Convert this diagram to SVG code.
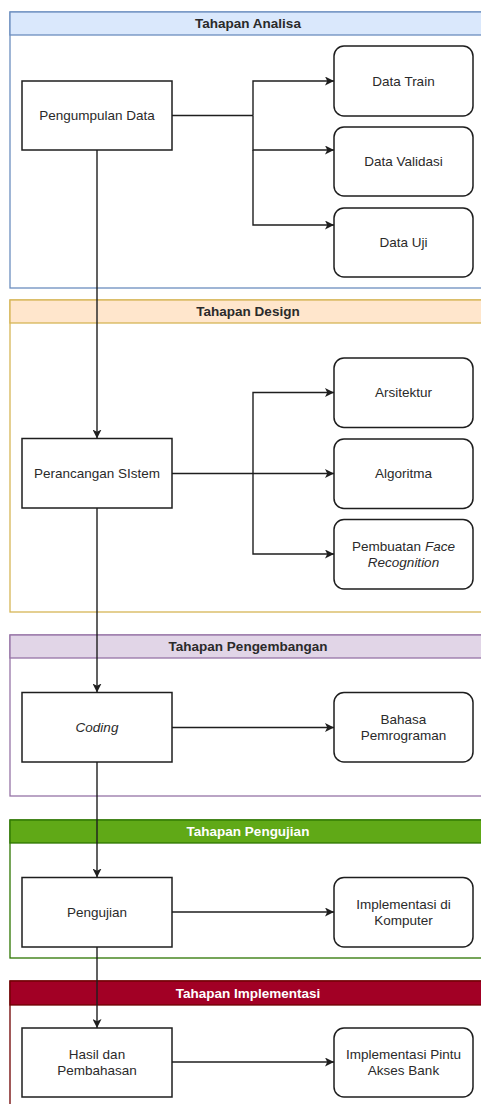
<svg xmlns="http://www.w3.org/2000/svg" width="481" height="1104" viewBox="0 0 481 1104">
<style>
text{font-family:"Liberation Sans",Arial,sans-serif;font-size:13.5px;fill:#2a2a2a;text-anchor:middle}
.hd{font-weight:bold}
.hw{font-weight:bold;fill:#fff}
.it{font-style:italic}
.box{fill:#fff;stroke:#1e1e1e;stroke-width:1.5}
.edge{fill:none;stroke:#1e1e1e;stroke-width:1.4}
</style>
<defs>
<marker id="ah" viewBox="0 0 10 10" refX="10" refY="5" markerWidth="9" markerHeight="9" markerUnits="userSpaceOnUse" orient="auto">
<path d="M0,0 L10,5 L0,10 L2.5,5 Z" fill="#1e1e1e"/>
</marker>
</defs>
<rect width="481" height="1104" fill="#fff"/>
<g id="lane-analisa">
<rect x="10" y="12" width="476" height="276" fill="#fff" stroke="#6c8ebf" stroke-width="1.3"/>
<rect x="10" y="12" width="476" height="23" fill="#dae8fc" stroke="#6c8ebf" stroke-width="1.3"/>
<text class="hd" x="248" y="28.2">Tahapan Analisa</text>
</g>
<g id="lane-design">
<rect x="10" y="300" width="476" height="312" fill="#fff" stroke="#d6b656" stroke-width="1.3"/>
<rect x="10" y="300" width="476" height="23" fill="#ffe6cc" stroke="#d6b656" stroke-width="1.3"/>
<text class="hd" x="248" y="316.2">Tahapan Design</text>
</g>
<g id="lane-pengembangan">
<rect x="10" y="635" width="476" height="161" fill="#fff" stroke="#9673a6" stroke-width="1.3"/>
<rect x="10" y="635" width="476" height="23" fill="#e1d5e7" stroke="#9673a6" stroke-width="1.3"/>
<text class="hd" x="248" y="651.2">Tahapan Pengembangan</text>
</g>
<g id="lane-pengujian">
<rect x="10" y="820" width="476" height="138" fill="#fff" stroke="#2d7600" stroke-width="1.3"/>
<rect x="10" y="820" width="476" height="23" fill="#60a917" stroke="#2d7600" stroke-width="1.3"/>
<text class="hw" x="248" y="836.2">Tahapan Pengujian</text>
</g>
<g id="lane-implementasi">
<rect x="10" y="981" width="476" height="140" fill="#fff" stroke="#6f0000" stroke-width="1.3"/>
<rect x="10" y="981" width="476" height="24" fill="#a20025" stroke="#6f0000" stroke-width="1.3"/>
<text class="hw" x="248" y="997.7">Tahapan Implementasi</text>
</g>
<g id="connectors">
<path class="edge" d="M172 115.5 H253"/>
<path class="edge" d="M253 115.5 V81 H334" marker-end="url(#ah)"/>
<path class="edge" d="M253 115.5 V150 H334" marker-end="url(#ah)"/>
<path class="edge" d="M253 150 V225 H334" marker-end="url(#ah)"/>
<path class="edge" d="M97 150 V438.5" marker-end="url(#ah)"/>
<path class="edge" d="M172 473.5 H334" marker-end="url(#ah)"/>
<path class="edge" d="M253 473.5 V392.5 H334" marker-end="url(#ah)"/>
<path class="edge" d="M253 473.5 V554 H334" marker-end="url(#ah)"/>
<path class="edge" d="M97 508 V692.5" marker-end="url(#ah)"/>
<path class="edge" d="M172 727.5 H334" marker-end="url(#ah)"/>
<path class="edge" d="M97 762 V877.5" marker-end="url(#ah)"/>
<path class="edge" d="M172 912 H334" marker-end="url(#ah)"/>
<path class="edge" d="M97 947 V1028" marker-end="url(#ah)"/>
<path class="edge" d="M172 1062 H334" marker-end="url(#ah)"/>
</g>
<g id="pengumpulan-data">
<rect class="box" x="22" y="81" width="150" height="69"/>
<text x="97" y="120.2">Pengumpulan Data</text>
</g>
<g id="data-train">
<rect class="box" x="334" y="46" width="139" height="70" rx="10"/>
<text x="403.5" y="85.7">Data Train</text>
</g>
<g id="data-validasi">
<rect class="box" x="334" y="127" width="139" height="69" rx="10"/>
<text x="403.5" y="166.2">Data Validasi</text>
</g>
<g id="data-uji">
<rect class="box" x="334" y="208" width="139" height="69" rx="10"/>
<text x="403.5" y="247.2">Data Uji</text>
</g>
<g id="perancangan-sistem">
<rect class="box" x="22" y="438.5" width="150" height="69.5"/>
<text x="97" y="478.2">Perancangan SIstem</text>
</g>
<g id="arsitektur">
<rect class="box" x="334" y="358" width="139" height="69.5" rx="10"/>
<text x="403.5" y="397.4">Arsitektur</text>
</g>
<g id="algoritma">
<rect class="box" x="334" y="439" width="139" height="69.5" rx="10"/>
<text x="403.5" y="478.4">Algoritma</text>
</g>
<g id="pembuatan-face-recognition">
<rect class="box" x="334" y="519.5" width="139" height="69.5" rx="10"/>
<text x="403.5" y="551">Pembuatan <tspan class="it">Face</tspan></text>
<text class="it" x="403.5" y="567">Recognition</text>
</g>
<g id="coding">
<rect class="box" x="22" y="692.5" width="150" height="69.5"/>
<text class="it" x="97" y="732.2">Coding</text>
</g>
<g id="bahasa-pemrograman">
<rect class="box" x="334" y="692.5" width="139" height="69.5" rx="10"/>
<text x="403.5" y="723.7">Bahasa</text>
<text x="403.5" y="739.7">Pemrograman</text>
</g>
<g id="pengujian">
<rect class="box" x="22" y="877.5" width="150" height="69.5"/>
<text x="97" y="917">Pengujian</text>
</g>
<g id="implementasi-komputer">
<rect class="box" x="334" y="877.5" width="139" height="69.5" rx="10"/>
<text x="403.5" y="908.5">Implementasi di</text>
<text x="403.5" y="924.5">Komputer</text>
</g>
<g id="hasil-pembahasan">
<rect class="box" x="22" y="1028" width="150" height="69"/>
<text x="97" y="1058.5">Hasil dan</text>
<text x="97" y="1074.5">Pembahasan</text>
</g>
<g id="implementasi-pintu">
<rect class="box" x="334" y="1028" width="139" height="69" rx="10"/>
<text x="403.5" y="1058.5">Implementasi Pintu</text>
<text x="403.5" y="1074.5">Akses Bank</text>
</g>
</svg>
